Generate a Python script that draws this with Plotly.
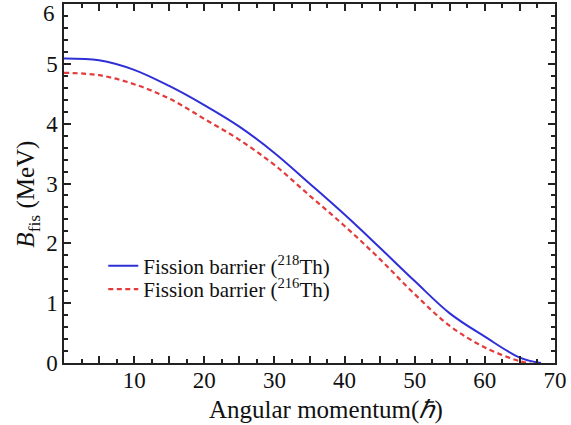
import plotly.graph_objects as go

# Angular momentum (hbar) and fission barriers (MeV)
j_218 = [0, 5, 10, 15, 20, 25, 30, 35, 40, 45, 50, 55, 60, 65, 68]
b_218 = [5.09, 5.06, 4.90, 4.63, 4.31, 3.95, 3.51, 3.00, 2.48, 1.93, 1.37, 0.83, 0.44, 0.09, 0.0]

j_216 = [0, 5, 10, 15, 20, 25, 30, 35, 40, 45, 50, 55, 60, 65, 66.5]
b_216 = [4.85, 4.81, 4.66, 4.42, 4.08, 3.73, 3.31, 2.80, 2.29, 1.74, 1.15, 0.62, 0.26, 0.03, 0.0]

x_hidden_labels = {"0": "", "5": "", "15": "", "25": "", "35": "", "45": "", "55": "", "65": ""}
y_top_label = "6"
x_title = "Angular momentum(<i>ℏ</i>)"
y_title = "<i>B</i><sub>fis</sub> (MeV)"

name_218 = "Fission barrier (<sup>218</sup>Th)"
name_216 = "Fission barrier (<sup>216</sup>Th)"

font = "Liberation Serif"
axis_color = "#222222"
text_color = "#111111"

fig = go.Figure()
fig.add_trace(go.Scatter(x=j_218, y=b_218, mode="lines", name=name_218, legend="legend",
                         line=dict(color="#2f2fd8", width=2, shape="spline")))
fig.add_trace(go.Scatter(x=j_216, y=b_216, mode="lines", name=name_216, legend="legend2",
                         line=dict(color="#e33b3b", width=2.2, dash="5px,3.5px", shape="spline")))

fig.update_xaxes(
    range=[0, 70], tickmode="linear", tick0=0, dtick=5, labelalias=x_hidden_labels,
    ticks="inside", ticklen=7, tickwidth=1.5, tickcolor=axis_color,
    minor=dict(ticks="inside", ticklen=4, tickwidth=1.5, tickcolor=axis_color, dtick=2.5, tick0=0),
    showline=True, linecolor=axis_color, linewidth=1.5, mirror="ticks",
    showgrid=False, zeroline=False, automargin=False, ticklabelstandoff=-4,
    tickfont=dict(family=font, size=23, color=text_color),
)
fig.update_yaxes(
    range=[0, 6], tickmode="linear", tick0=0, dtick=1, labelalias={"6": ""},
    ticks="inside", ticklen=7, tickwidth=1.5, tickcolor=axis_color,
    minor=dict(ticks="inside", ticklen=4, tickwidth=1.5, tickcolor=axis_color, dtick=0.2, tick0=0),
    showline=True, linecolor=axis_color, linewidth=1.5, mirror="ticks",
    showgrid=False, zeroline=False, automargin=False, ticklabelstandoff=0,
    tickfont=dict(family=font, size=23, color=text_color),
)

fig.add_annotation(x=0, xref="paper", y=6, yref="y", text=y_top_label, showarrow=False,
                   xanchor="right", yanchor="middle", xshift=-7, yshift=-9,
                   font=dict(family=font, size=23, color=text_color))
fig.add_annotation(x=0.534, xref="paper", y=0, yref="paper", text=x_title, showarrow=False,
                   xanchor="center", yanchor="middle", yshift=-47,
                   font=dict(family=font, size=25, color=text_color))
fig.add_annotation(x=0, xref="paper", y=0.469, yref="paper", text=y_title, showarrow=False,
                   textangle=-90, xanchor="center", yanchor="middle", xshift=-36,
                   font=dict(family=font, size=25, color=text_color))

legend_common = dict(xanchor="left", yanchor="middle", bgcolor="rgba(0,0,0,0)",
                     borderwidth=0, font=dict(family=font, size=21, color=text_color))

fig.update_layout(
    width=571, height=425,
    margin=dict(l=64, r=16, t=4, b=62),
    plot_bgcolor="white", paper_bgcolor="white",
    showlegend=True,
    legend=dict(x=0.08, y=0.27, **legend_common),
    legend2=dict(x=0.08, y=0.205, **legend_common),
)

fig.write_html("out.html", config={"displayModeBar": False},
               post_script="document.body.style.margin='0';document.body.style.overflow='hidden';")
